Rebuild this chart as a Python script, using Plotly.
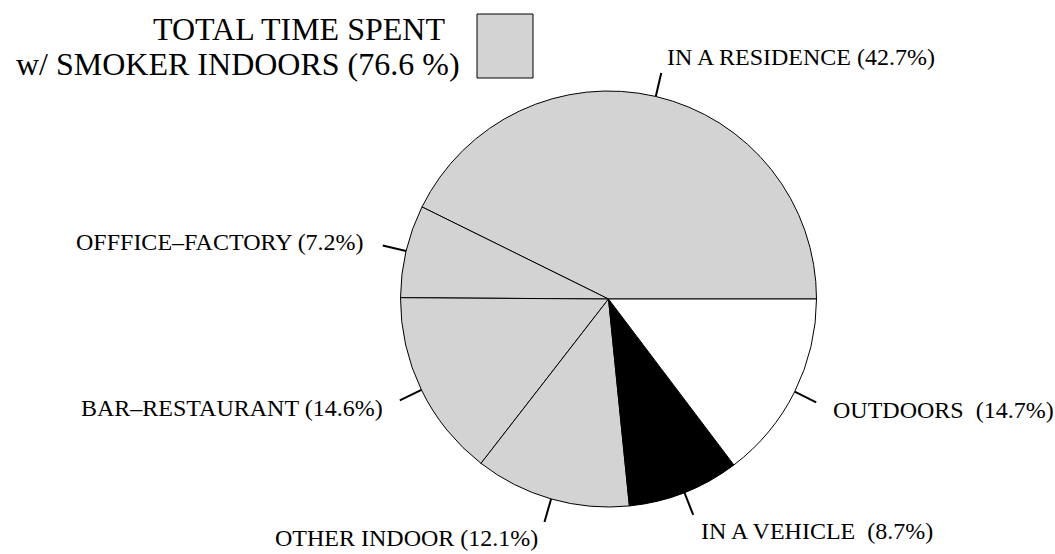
import math
import plotly.graph_objects as go

# Data
categories = ["IN A RESIDENCE", "OFFFICE–FACTORY", "BAR–RESTAURANT",
              "OTHER INDOOR", "IN A VEHICLE", "OUTDOORS"]
shares = [42.7, 7.2, 14.6, 12.1, 8.7, 14.7]
slice_labels = ["IN A RESIDENCE (42.7%)", "OFFFICE–FACTORY (7.2%)",
                "BAR–RESTAURANT (14.6%)", "OTHER INDOOR (12.1%)",
                "IN A VEHICLE\u00a0 (8.7%)", "OUTDOORS\u00a0 (14.7%)"]
slice_colors = ["#d3d3d3", "#d3d3d3", "#d3d3d3", "#d3d3d3", "black", "white"]
legend_lines = ["TOTAL TIME SPENT", "w/ SMOKER INDOORS (76.6 %)"]

# Page geometry (pixels)
W, H = 1055, 554
cx, cy, R = 608.5, 299, 208
tick_len = 24
label_r = 249
FONT = "Liberation Serif, Times New Roman, serif"


def to_paper(x, y):
    return x / W, 1 - y / H


total = sum(shares)

# R-style pie: first slice starts at 3 o'clock and runs counterclockwise.
# Plotly lays the first counterclockwise slice over [rotation, rotation + v],
# so shift the start back by the first slice's angle.
fig = go.Figure()
fig.add_trace(go.Pie(
    values=shares,
    labels=categories,
    sort=False,
    direction="counterclockwise",
    rotation=90 - shares[0] / total * 360,
    marker=dict(colors=slice_colors, line=dict(color="black", width=1)),
    textinfo="none",
    hoverinfo="label+percent",
    showlegend=False,
    domain=dict(x=[(cx - R) / W, (cx + R) / W],
                y=[1 - (cy + R) / H, 1 - (cy - R) / H]),
))

# Tick marks and outside labels, placed at each slice's mid angle
start = 0.0
for v, lab in zip(shares, slice_labels):
    mid = math.radians((start + v / 2) / total * 360)
    start += v
    dx, dy = math.cos(mid), -math.sin(mid)
    x0, y0 = to_paper(cx + R * dx, cy + R * dy)
    x1, y1 = to_paper(cx + (R + tick_len) * dx, cy + (R + tick_len) * dy)
    fig.add_shape(type="line", xref="paper", yref="paper",
                  x0=x0, y0=y0, x1=x1, y1=y1,
                  line=dict(color="black", width=2))
    lx, ly = to_paper(cx + label_r * dx, cy + label_r * dy)
    fig.add_annotation(x=lx, y=ly, xref="paper", yref="paper",
                       text=lab, showarrow=False,
                       xanchor="left" if dx > 0 else "right",
                       yanchor="middle",
                       font=dict(family=FONT, size=24, color="black"))

# Legend-like key in the top left corner
bx0, by0 = to_paper(477, 14)
bx1, by1 = to_paper(533, 78)
fig.add_shape(type="rect", xref="paper", yref="paper",
              x0=bx0, y0=by1, x1=bx1, y1=by0,
              fillcolor="#d3d3d3", line=dict(color="black", width=1))
for line_text, (rx, ry) in zip(legend_lines, [(447, 29), (462, 64)]):
    ax, ay = to_paper(rx, ry)
    fig.add_annotation(x=ax, y=ay, xref="paper", yref="paper",
                       text=line_text, showarrow=False,
                       xanchor="right", yanchor="middle",
                       font=dict(family=FONT, size=32, color="black"))

fig.update_layout(
    width=W, height=H,
    margin=dict(l=0, r=0, t=0, b=0),
    paper_bgcolor="white",
    plot_bgcolor="white",
)

# drop the browser's default body margin so the figure fills the window
fig.write_html("out.html",
               config={"displayModeBar": False},
               post_script="document.body.style.margin='0';"
                           "document.body.style.overflow='hidden';")
